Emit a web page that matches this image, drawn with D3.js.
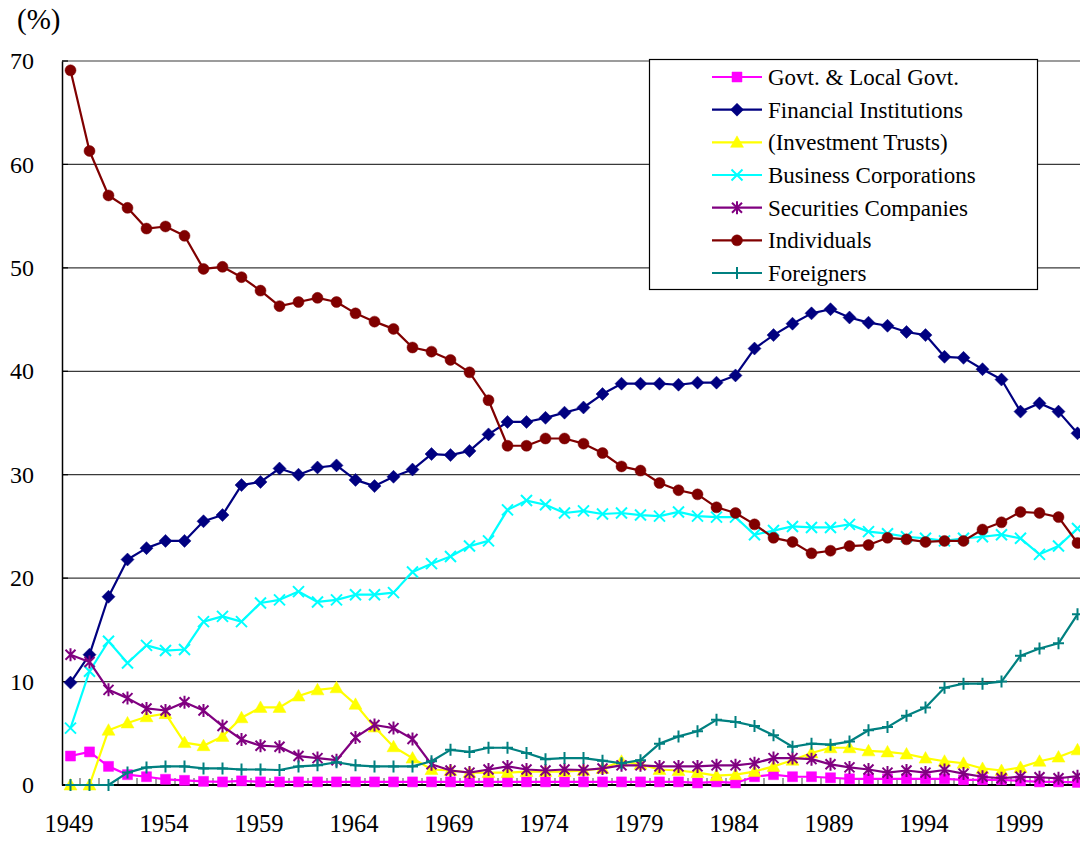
<!DOCTYPE html>
<html>
<head>
<meta charset="utf-8">
<script src="https://cdn.jsdelivr.net/npm/d3@7"></script>
<style>
html,body{margin:0;padding:0;background:#fff;}
svg{display:block;}
</style>
</head>
<body>
<svg id="chart" width="1080" height="843"></svg>
<script>
const years = d3.range(1949, 2003);
const xTickYears = [1949, 1954, 1959, 1964, 1969, 1974, 1979, 1984, 1989, 1994, 1999];
const yTicks = [0, 10, 20, 30, 40, 50, 60, 70];
const seriesNames = ["Govt. & Local Govt.", "Financial Institutions", "(Investment Trusts)", "Business Corporations", "Securities Companies", "Individuals", "Foreigners"];

const govt = [2.8,3.2,1.8,1.0,0.8,0.55,0.45,0.35,0.3,0.4, 0.3,0.3,0.3,0.3,0.3,0.3,0.3,0.3,0.3,0.3, 0.3,0.3,0.3,0.3,0.3,0.3,0.3,0.3,0.3,0.3, 0.3,0.3,0.3,0.2,0.3,0.2,0.8,1.0,0.8,0.8, 0.7,0.6,0.6,0.6,0.6,0.6,0.6,0.5,0.5,0.5, 0.4,0.3,0.3,0.25];
const financial = [9.9,12.6,18.2,21.8,22.9,23.6,23.6,25.5,26.1,29.0, 29.3,30.6,30.0,30.7,30.9,29.5,28.9,29.8,30.5,32.0, 31.9,32.3,33.9,35.1,35.1,35.5,36.0,36.5,37.8,38.8, 38.8,38.8,38.7,38.9,38.9,39.6,42.2,43.5,44.6,45.6, 46.0,45.2,44.7,44.4,43.8,43.5,41.4,41.3,40.2,39.2, 36.1,36.9,36.1,34.0];
const invTrusts = [0,0,5.3,6.0,6.6,6.9,4.1,3.8,4.7,6.5, 7.5,7.5,8.6,9.2,9.4,7.8,5.6,3.7,2.6,1.5, 1.4,1.2,1.2,1.2,1.3,1.3,1.3,1.4,1.6,2.3, 2.0,1.5,1.4,1.2,0.9,1.0,1.3,1.8,2.4,3.1, 3.6,3.6,3.3,3.2,3.0,2.6,2.3,2.1,1.6,1.4, 1.7,2.3,2.7,3.4];
const business = [5.5,11.0,13.9,11.8,13.5,13.0,13.1,15.8,16.3,15.8, 17.6,17.9,18.7,17.7,17.9,18.4,18.4,18.6,20.6,21.4, 22.1,23.1,23.6,26.6,27.5,27.1,26.3,26.5,26.2,26.3, 26.1,26.0,26.4,26.0,25.9,25.9,24.2,24.6,25.0,24.9, 24.9,25.2,24.5,24.3,24.0,23.85,23.6,23.85,24.0,24.2, 23.85,22.3,23.1,24.8];
const securities = [12.6,11.9,9.2,8.4,7.4,7.2,8.0,7.2,5.7,4.4, 3.8,3.7,2.8,2.6,2.4,4.6,5.8,5.5,4.45,2.0, 1.4,1.2,1.5,1.8,1.5,1.4,1.5,1.45,1.6,1.9, 1.9,1.8,1.8,1.8,1.9,1.9,2.1,2.6,2.6,2.5, 2.0,1.7,1.5,1.2,1.4,1.2,1.45,1.1,0.8,0.65, 0.8,0.75,0.65,0.85];
const individuals = [69.1,61.3,57.0,55.8,53.8,54.0,53.1,49.9,50.1,49.1, 47.8,46.3,46.7,47.1,46.7,45.6,44.8,44.1,42.3,41.9, 41.1,39.9,37.2,32.8,32.8,33.5,33.5,33.0,32.1,30.8, 30.4,29.2,28.5,28.1,26.85,26.3,25.2,23.9,23.5,22.4, 22.65,23.1,23.2,23.9,23.75,23.5,23.6,23.6,24.7,25.4, 26.4,26.3,25.9,23.4];
const foreigners = [0,0,0,1.2,1.7,1.8,1.8,1.6,1.6,1.5, 1.5,1.45,1.8,1.9,2.2,1.9,1.8,1.8,1.8,2.3, 3.4,3.2,3.6,3.6,3.1,2.5,2.6,2.6,2.35,2.1, 2.4,4.0,4.7,5.2,6.3,6.1,5.7,4.8,3.7,4.0, 3.9,4.2,5.3,5.6,6.7,7.5,9.4,9.8,9.8,10.0, 12.5,13.2,13.7,16.5];

const seriesValues = [govt, financial, invTrusts, business, securities, individuals, foreigners];
const colors = ["#FF00FF", "#000080", "#FFFF00", "#00FFFF", "#800080", "#800000", "#008080"];
const markers = ["square", "diamond", "triangle", "x", "asterisk", "circle", "plus"];

const svg = d3.select("#chart");
const font = "Liberation Serif, Times New Roman, serif";

const x = d3.scaleLinear().domain([1948.5, 2002.5]).range([61, 1087]);
const y = d3.scaleLinear().domain([0, 70]).range([785, 61]);

// gridlines
svg.append("g").selectAll("line").data(yTicks.filter(d => d > 0)).join("line")
  .attr("x1", 62).attr("x2", 1090)
  .attr("y1", d => y(d)).attr("y2", d => y(d))
  .attr("stroke", "#3a3a3a").attr("stroke-width", 1.2);

// y axis
const yAxis = d3.axisLeft(y).tickValues(yTicks).tickSize(0).tickPadding(0);
const yg = svg.append("g").attr("transform", "translate(62,0)").call(yAxis);
yg.select(".domain").attr("stroke", "#000").attr("stroke-width", 1.5);
yg.selectAll("text").attr("x", -28).attr("font-family", font).attr("font-size", 24).attr("fill", "#000");
// inner y ticks
svg.append("g").selectAll("line").data(yTicks).join("line")
  .attr("x1", 62).attr("x2", 68).attr("y1", d => y(d)).attr("y2", d => y(d))
  .attr("stroke", "#000").attr("stroke-width", 1.2);

// x axis
const xAxis = d3.axisBottom(x).tickValues(xTickYears).tickSize(0).tickPadding(0).tickFormat(d3.format("d"));
const xg = svg.append("g").attr("transform", "translate(0,785)").call(xAxis);
xg.select(".domain").remove();
xg.selectAll("text").attr("dy", 0).attr("y", 47).attr("dx", -2)
  .attr("font-family", font).attr("font-size", 24.5).attr("fill", "#000");
// minor ticks between categories
svg.append("g").selectAll("line").data(d3.range(1949.5, 2003, 1)).join("line")
  .attr("x1", d => x(d)).attr("x2", d => x(d)).attr("y1", 778).attr("y2", 785)
  .attr("stroke", "#666").attr("stroke-width", 1.2);
svg.append("line").attr("x1", 62).attr("x2", 1090).attr("y1", 785).attr("y2", 785)
  .attr("stroke", "#000").attr("stroke-width", 2);

// (%)
svg.append("text").attr("x", 17).attr("y", 28.5).attr("font-family", font).attr("font-size", 29).text("(%)");

function markerPath(type) {
  switch (type) {
    case "square": return `M${-5},${-5}h10v10h-10z`;
    case "diamond": return `M0,${-6.5}L6.5,0L0,6.5L-6.5,0Z`;
    case "triangle": return `M0,-6.5L6.5,5L-6.5,5Z`;
    case "circle": return d3.symbol(d3.symbolCircle, Math.PI * 5.5 * 5.5)();
    case "x": return `M-5.5,-5.5L5.5,5.5M-5.5,5.5L5.5,-5.5`;
    case "plus": return `M-5.5,0H5.5M0,-6V6`;
    case "asterisk": return `M-5,-5L5,5M-5,5L5,-5M0,-6.5V6.5`;
  }
}
const filled = {square: true, diamond: true, triangle: true, circle: true, x: false, plus: false, asterisk: false};

const line = d3.line().x((d, i) => x(years[i])).y(d => y(d));

seriesValues.forEach((vals, si) => {
  const g = svg.append("g");
  g.append("path").datum(vals).attr("d", line).attr("fill", "none")
    .attr("stroke", colors[si]).attr("stroke-width", 2.2).attr("stroke-linejoin", "round");
  const m = markers[si];
  g.selectAll("path.m").data(vals).join("path").attr("class", "m")
    .attr("transform", (d, i) => `translate(${x(years[i])},${y(d)})`)
    .attr("d", markerPath(m))
    .attr("fill", filled[m] ? colors[si] : "none")
    .attr("stroke", colors[si]).attr("stroke-width", filled[m] ? 0.5 : 2);
});

// legend
const lg = svg.append("g");
lg.append("rect").attr("x", 649.5).attr("y", 59.5).attr("width", 388).attr("height", 230)
  .attr("fill", "#fff").attr("stroke", "#000").attr("stroke-width", 1.2);
seriesNames.forEach((name, i) => {
  const cy = 77 + i * 32.67;
  const row = lg.append("g");
  row.append("line").attr("x1", 712).attr("x2", 762).attr("y1", cy).attr("y2", cy)
    .attr("stroke", colors[i]).attr("stroke-width", 2.2);
  const m = markers[i];
  row.append("path").attr("transform", `translate(737,${cy})`).attr("d", markerPath(m))
    .attr("fill", filled[m] ? colors[i] : "none").attr("stroke", colors[i]).attr("stroke-width", filled[m] ? 0.5 : 2);
  row.append("text").attr("x", 768).attr("y", cy).attr("dy", "0.35em")
    .attr("font-family", font).attr("font-size", 23).attr("fill", "#000").text(name);
});
</script>
</body>
</html>
